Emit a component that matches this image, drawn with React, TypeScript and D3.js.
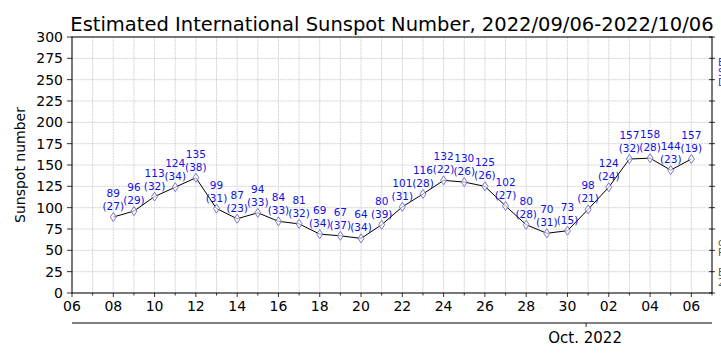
import { useRef, useEffect } from "react";
import * as d3 from "d3";

const days = [
  "2022-09-08", "2022-09-09", "2022-09-10", "2022-09-11", "2022-09-12",
  "2022-09-13", "2022-09-14", "2022-09-15", "2022-09-16", "2022-09-17",
  "2022-09-18", "2022-09-19", "2022-09-20", "2022-09-21", "2022-09-22",
  "2022-09-23", "2022-09-24", "2022-09-25", "2022-09-26", "2022-09-27",
  "2022-09-28", "2022-09-29", "2022-09-30", "2022-10-01", "2022-10-02",
  "2022-10-03", "2022-10-04", "2022-10-05", "2022-10-06",
];
const sunspots = [
  89, 96, 113, 124, 135, 99, 87, 94, 84, 81, 69, 67, 64, 80, 101, 116, 132,
  130, 125, 102, 80, 70, 73, 98, 124, 157, 158, 144, 157,
];
const stations = [
  27, 29, 32, 34, 38, 31, 23, 33, 33, 32, 34, 37, 34, 39, 31, 28, 22, 26, 26,
  27, 28, 31, 15, 21, 24, 32, 28, 23, 19,
];
const yTicks = d3.range(0, 301, 25);
const title = "Estimated International Sunspot Number, 2022/09/06-2022/10/06";

const W = 721,
  H = 362;
const FONT = "DejaVu Sans, sans-serif";

export default function App() {
  const ref = useRef<SVGSVGElement>(null);

  useEffect(() => {
    if (!ref.current) return;
    const svg = d3.select(ref.current);
    svg.selectAll("*").remove();

    const parse = d3.timeParse("%Y-%m-%d");
    const dates = days.map((d) => parse(d) as Date);
    const x = d3
      .scaleTime()
      .domain([parse("2022-09-06") as Date, parse("2022-10-07") as Date])
      .range([72, 712]);
    const y = d3.scaleLinear().domain([0, 300]).range([293, 37]);

    const allDays = d3.timeDay.range(x.domain()[0], d3.timeDay.offset(x.domain()[1], 1));
    const majors = allDays.filter((d, i) => i % 2 === 0);

    // grid
    const grid = svg.append("g").attr("stroke", "#c4c4c4").attr("stroke-width", 0.7);
    grid
      .selectAll("line.v")
      .data(allDays)
      .join("line")
      .attr("x1", (d) => x(d))
      .attr("x2", (d) => x(d))
      .attr("y1", y(0))
      .attr("y2", y(300))
      .attr("stroke-dasharray", "2,0.7");
    grid
      .selectAll("line.h")
      .data(yTicks)
      .join("line")
      .attr("x1", 72)
      .attr("x2", 712)
      .attr("y1", (d) => y(d))
      .attr("y2", (d) => y(d))
      .attr("stroke-dasharray", "2,0.7");

    // frame
    svg
      .append("rect")
      .attr("x", 72)
      .attr("y", y(300))
      .attr("width", 640)
      .attr("height", y(0) - y(300))
      .attr("fill", "none")
      .attr("stroke", "#000")
      .attr("stroke-width", 1);

    // x axis
    const xa = svg.append("g").attr("transform", `translate(0,${y(0)})`);
    xa.selectAll("line")
      .data(allDays)
      .join("line")
      .attr("x1", (d) => x(d))
      .attr("x2", (d) => x(d))
      .attr("y1", 0)
      .attr("y2", (d, i) => (i % 2 === 0 ? 4 : 2.5))
      .attr("stroke", "#000")
      .attr("stroke-width", 0.8);
    xa.selectAll("text")
      .data(majors)
      .join("text")
      .attr("x", (d) => x(d))
      .attr("y", 18)
      .attr("text-anchor", "middle")
      .attr("font-family", FONT)
      .attr("font-size", 14)
      .text(d3.timeFormat("%d"));

    // y axis left
    const ya = svg.append("g");
    ya.selectAll("line")
      .data(yTicks)
      .join("line")
      .attr("x1", 67)
      .attr("x2", 72)
      .attr("y1", (d) => y(d))
      .attr("y2", (d) => y(d))
      .attr("stroke", "#000")
      .attr("stroke-width", 0.8);
    ya.selectAll("text")
      .data(yTicks)
      .join("text")
      .attr("x", 63)
      .attr("y", (d) => y(d) + 5)
      .attr("text-anchor", "end")
      .attr("font-family", FONT)
      .attr("font-size", 14)
      .text((d) => d);
    // right ticks
    svg
      .append("g")
      .selectAll("line")
      .data(yTicks)
      .join("line")
      .attr("x1", 709)
      .attr("x2", 715)
      .attr("y1", (d) => y(d))
      .attr("y2", (d) => y(d))
      .attr("stroke", "#000")
      .attr("stroke-width", 0.8);

    // secondary month axis
    svg
      .append("line")
      .attr("x1", 72)
      .attr("x2", 712)
      .attr("y1", 323)
      .attr("y2", 323)
      .attr("stroke", "#000")
      .attr("stroke-width", 1);
    const oct = parse("2022-10-01") as Date;
    svg
      .append("line")
      .attr("x1", x(oct) - 2)
      .attr("x2", x(oct) - 2)
      .attr("y1", 323)
      .attr("y2", 327)
      .attr("stroke", "#000")
      .attr("stroke-width", 0.8);
    svg
      .append("text")
      .attr("x", x(oct) - 3)
      .attr("y", 343)
      .attr("text-anchor", "middle")
      .attr("font-family", FONT)
      .attr("font-size", 15)
      .text("Oct. 2022");

    // y label
    svg
      .append("text")
      .attr("transform", `translate(25,${(y(0) + y(300)) / 2}) rotate(-90)`)
      .attr("text-anchor", "middle")
      .attr("font-family", FONT)
      .attr("font-size", 14)
      .text("Sunspot number");

    // title
    svg
      .append("text")
      .attr("x", 392)
      .attr("y", 31)
      .attr("text-anchor", "middle")
      .attr("font-family", FONT)
      .attr("font-size", 19.5)
      .text(title);

    // line
    const line = d3
      .line<number>()
      .x((d, i) => x(dates[i]))
      .y((d) => y(d));
    svg
      .append("path")
      .attr("d", line(sunspots))
      .attr("fill", "none")
      .attr("stroke", "#000")
      .attr("stroke-width", 1);

    // markers
    svg
      .append("g")
      .selectAll("path")
      .data(sunspots)
      .join("path")
      .attr("transform", (d, i) => `translate(${x(dates[i])},${y(d)})`)
      .attr("d", "M0,-4.5L3,0L0,4.5L-3,0Z")
      .attr("fill", "#ffffff")
      .attr("fill-opacity", 0.6)
      .attr("stroke", "#6a6ac8")
      .attr("stroke-width", 0.9);

    // labels
    const lab = svg.append("g").attr("font-family", FONT).attr("font-size", 10.5).attr("fill", "#1010e0");
    lab
      .selectAll("text.v")
      .data(sunspots)
      .join("text")
      .attr("x", (d, i) => x(dates[i]))
      .attr("y", (d) => y(d) - 20)
      .attr("text-anchor", "middle")
      .text((d) => d);
    lab
      .selectAll("text.n")
      .data(stations)
      .join("text")
      .attr("x", (d, i) => x(dates[i]))
      .attr("y", (d, i) => y(sunspots[i]) - 7)
      .attr("text-anchor", "middle")
      .text((d) => `(${d})`);

    // clipped legend text at the right edge
    const edge = svg.append("g").attr("font-family", FONT).attr("font-size", 10);
    ["E", "S", "D"].forEach((t, i) =>
      edge.append("text").attr("x", 718).attr("y", 66 + i * 10).attr("fill", "#3030e0").text(t)
    );
    ["c", "R", "", "B", "2"].forEach((t, i) =>
      edge.append("text").attr("x", 718).attr("y", 246 + i * 10).attr("fill", "#555").text(t)
    );
  }, []);

  return (
    <svg
      ref={ref}
      width={W}
      height={H}
      style={{ position: "absolute", left: 0, top: 0, background: "#fff" }}
    />
  );
}
